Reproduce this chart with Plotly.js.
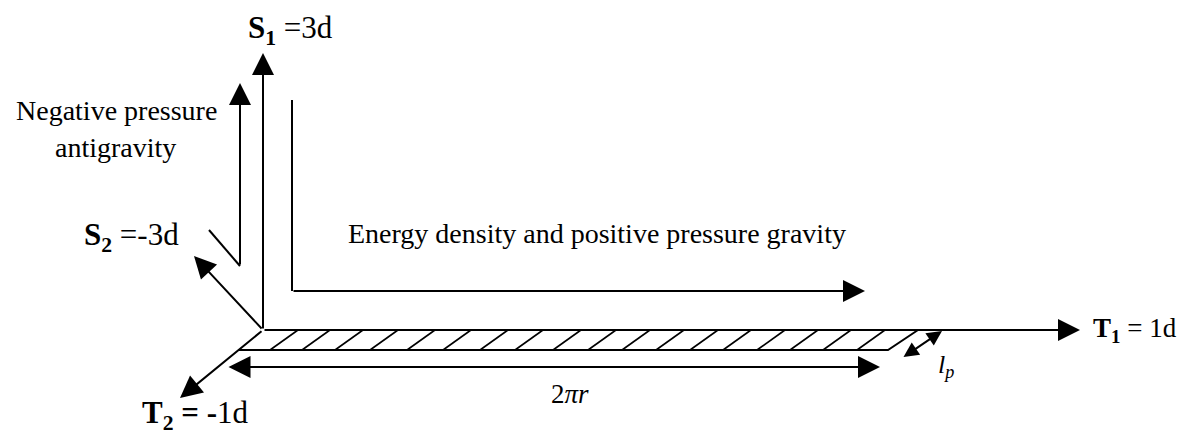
<!DOCTYPE html>
<html>
<head>
<meta charset="utf-8">
<script src="https://cdn.plot.ly/plotly-3.0.1.min.js"></script>
<style>html,body{margin:0;padding:0;background:#fff;}#chart{width:1185px;height:435px;}</style>
</head>
<body>
<div id="chart"></div>
<script>
// ---- Diagram data (pixel-like coordinates on a 1185 x 435 canvas, y grows downward) ----
const originX = 263;
const originY = 330;

// Axis arrows from the origin to their tips
const axisTipX = [263, 194, 1080, 180];
const axisTipY = [53, 256, 330, 398];

// Other single-headed arrows: tail -> tip
const arrowTailX = [240, 292];
const arrowTailY = [266, 291];
const arrowTipX  = [240, 865];
const arrowTipY  = [83, 291];

// Double-headed arrows (2πr and l_p) with their head sizes
const dblStartX = [227, 902];
const dblStartY = [367, 358];
const dblEndX   = [880, 942];
const dblEndY   = [367, 331];
const dblHeadSize = [2.2, 1.5];

// Plain strokes (polylines, null separates)
const strokeX = [209, 240, null, 292, 292, null, 238, 888, 918];
const strokeY = [230, 266, null, 100, 291, null, 350, 350, 330];

// Hatch lines of the band: bottom x positions, band bottom / top y
const hatchBottomX = [270, 302, 335, 370, 407, 443, 480, 515, 553, 588, 622, 656, 690, 723, 757, 790, 823, 857];
const hatchSlantX = 28;
const bandBottomY = 350;
const bandTopY = 330;

// Text labels
const labelText = [
  '<b>S<sub>1</sub></b> =3d',
  'Negative pressure',
  'antigravity',
  '<b>S<sub>2</sub></b> =-3d',
  'Energy density and positive pressure gravity',
  '2<i>πr</i>',
  '<b>T<sub>1</sub></b> = 1d',
  '<b>T<sub>2</sub> = -</b>1d',
  '<i>l<sub>p</sub></i>'
];
const labelX = [290, 116, 115, 131, 597, 570, 1135, 195, 946];
const labelY = [30, 110, 147, 237, 233, 394, 330, 415, 366];
const labelSize = [31, 28, 28, 31, 28, 27, 27, 31, 26];

// ---- Build traces ----
const hx = [], hy = [];
hatchBottomX.forEach(function (b) {
  hx.push(b, b + hatchSlantX, null);
  hy.push(bandBottomY, bandTopY, null);
});

const lineStyle = {color: '#000', width: 2};
const traces = [
  {x: strokeX, y: strokeY, mode: 'lines', line: lineStyle, hoverinfo: 'skip', showlegend: false},
  {x: hx, y: hy, mode: 'lines', line: {color: '#000', width: 1.6}, hoverinfo: 'skip', showlegend: false}
];

const annotations = [];
function arrow(x0, y0, x1, y1, dbl, size) {
  const a = {
    x: x1, y: y1, ax: x0, ay: y0,
    xref: 'x', yref: 'y', axref: 'x', ayref: 'y',
    text: '', showarrow: true,
    arrowhead: 2, arrowsize: size, arrowwidth: 2, arrowcolor: '#000'
  };
  if (dbl) {
    a.arrowside = 'end+start';
    a.startarrowhead = 2;
    a.startarrowsize = size;
  }
  annotations.push(a);
}
axisTipX.forEach(function (tx, i) { arrow(originX, originY, tx, axisTipY[i], false, 2.2); });
arrowTipX.forEach(function (tx, i) { arrow(arrowTailX[i], arrowTailY[i], tx, arrowTipY[i], false, 2.2); });
dblEndX.forEach(function (tx, i) { arrow(dblStartX[i], dblStartY[i], tx, dblEndY[i], true, dblHeadSize[i]); });

labelText.forEach(function (t, i) {
  annotations.push({
    x: labelX[i], y: labelY[i], xref: 'x', yref: 'y',
    text: t, showarrow: false, xanchor: 'center', yanchor: 'middle',
    font: {family: 'Liberation Serif, Times New Roman, serif', size: labelSize[i], color: '#000'}
  });
});

const layout = {
  width: 1185, height: 435,
  margin: {l: 0, r: 0, t: 0, b: 0},
  paper_bgcolor: '#fff', plot_bgcolor: '#fff',
  xaxis: {range: [0, 1185], visible: false, fixedrange: true},
  yaxis: {range: [435, 0], visible: false, fixedrange: true},
  annotations: annotations,
  showlegend: false
};

Plotly.newPlot('chart', traces, layout, {staticPlot: true, displayModeBar: false});
</script>
</body>
</html>
